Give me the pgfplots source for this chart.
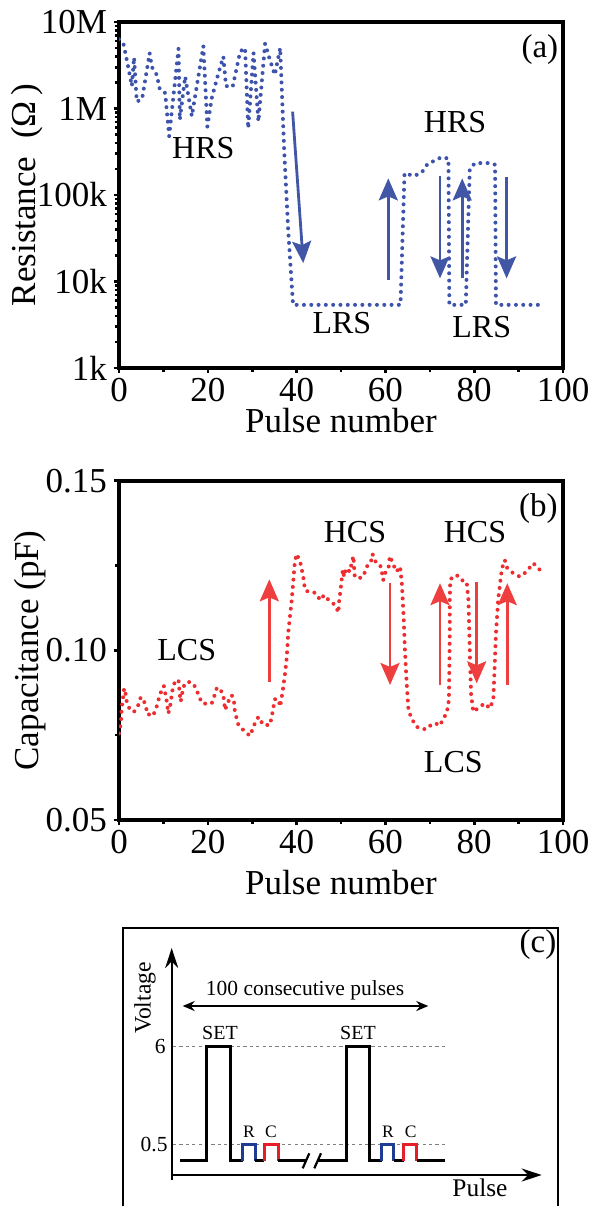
\documentclass[border=0pt]{standalone}
\usepackage{fontspec}
\setmainfont{Liberation Serif}
\usepackage{pgfplots}
\pgfplotsset{compat=1.18}
\usetikzlibrary{arrows.meta}

\definecolor{dotblue}{RGB}{62,84,172}
\definecolor{dotred}{RGB}{238,45,48}
\definecolor{arrblue}{RGB}{66,86,166}
\definecolor{arrred}{RGB}{239,62,62}
\definecolor{pblue}{RGB}{30,60,150}
\definecolor{pred}{RGB}{230,30,40}

\newcommand\lab{\fontsize{17.5bp}{19bp}\selectfont}
\newcommand\ann{\fontsize{16bp}{18bp}\selectfont}

\tikzset{
  dots/.style={line width=2bp, dash pattern=on 0pt off 3.65bp, line cap=round, line join=round},
  bigarrow/.style={line width=1.4bp, -{Stealth[length=11bp,width=9.5bp,inset=2bp]}},
}
\pgfplotsset{
  panel/.style={
    scale only axis, width=222bp,
    xmin=0, xmax=100, xtick={0,20,...,100}, minor x tick num=1,
    axis line style={line width=2bp},
    tick style={black, line width=1.3bp},
    major tick length=2.5bp, minor tick length=1.8bp,
    tick align=outside, xtick pos=bottom, ytick pos=left,
    tick label style={font=\lab},
    xticklabel style={yshift=1bp},
    /pgf/number format/assume math mode=true,
    label style={font=\lab},
    xlabel={Pulse number},
  },
}

\begin{document}
\begin{tikzpicture}
\useasboundingbox (0,0) rectangle (295bp,-603bp);

% (a) resistance
\begin{axis}[panel, at={(59.5bp,-184bp)}, anchor=south west, height=173bp,
  ymode=log, ymin=1e3, ymax=1e7,
  ytick={1e3,1e4,1e5,1e6,1e7}, yticklabels={1k,10k,100k,1M,10M},
  ylabel={Resistance\ \ (Ω\,)},
  xlabel style={at={(axis description cs:0.5,-0.153)}, anchor=center},
  ylabel style={at={(axis description cs:-0.207,0.5)}, anchor=center}]
\addplot[dots, dotblue] coordinates {
(0,6.31e6) (1,5.62e6) (2,3.16e6) (2.9,1.82e6) (3.4,3.89e6) (4.0,1.20e6)
(5.2,1.29e6) (6.9,4.37e6) (7.4,3.02e6) (8.5,2.45e6) (9.2,1.66e6) (10.4,1.51e6)
(11.3,4.79e5) (13.4,4.90e6) (13.7,7.41e5) (14.9,2.34e6) (16.4,8.13e5) (19.0,5.25e6)
(19.9,6.17e5) (20.9,1.32e6) (22.4,2.57e6) (23.5,3.98e6) (24.1,1.82e6) (25.6,1.78e6)
(27.3,4.57e6) (28.4,5.01e6) (29.1,5.89e5) (30.3,4.37e6) (31.4,7.08e5) (32.9,5.62e6)
(34.0,3.63e6) (35.1,2.45e6) (36.3,5.01e6) (37.2,3.31e5) (38.1,3.98e4) (39.2,5.37e3)
(45,5.37e3) (50,5.37e3) (55,5.37e3) (60,5.37e3) (63.4,5.37e3)
(64.3,1.78e5) (66.5,1.66e5) (68.2,1.82e5) (69.5,2.29e5) (71.2,2.51e5) (72.7,2.75e5)
(74.2,2.63e5) (74.4,5.37e3) (78.1,5.37e3) (79.0,2.00e5) (80.2,2.34e5) (82.0,2.34e5)
(83.6,2.34e5) (84.7,2.24e5) (84.9,5.37e3) (94.8,5.37e3)};
\draw[bigarrow, arrblue] (rel axis cs:0.391,0.741) -- (rel axis cs:0.415,0.303);
\draw[bigarrow, arrblue] (rel axis cs:0.6065,0.254) -- (rel axis cs:0.6065,0.548);
\draw[bigarrow, arrblue] (rel axis cs:0.723,0.555) -- (rel axis cs:0.723,0.259);
\draw[bigarrow, arrblue] (rel axis cs:0.773,0.261) -- (rel axis cs:0.773,0.548);
\draw[bigarrow, arrblue] (rel axis cs:0.873,0.553) -- (rel axis cs:0.873,0.259);
\node[font=\ann] at (rel axis cs:0.190,0.635) {HRS};
\node[font=\ann] at (rel axis cs:0.757,0.712) {HRS};
\node[font=\ann] at (rel axis cs:0.502,0.129) {LRS};
\node[font=\ann] at (rel axis cs:0.817,0.119) {LRS};
\node[font=\fontsize{16.5bp}{18bp}\selectfont] at (rel axis cs:0.948,0.919) {(a)};
\end{axis}

% (b) capacitance
\begin{axis}[panel, at={(59.5bp,-410bp)}, anchor=south west, height=169.65bp,
  ymin=0.05, ymax=0.15, ytick={0.05,0.10,0.15}, yticklabels={0.05,0.10,0.15},
  minor y tick num=1,
  ylabel={Capacitance (pF)},
  xlabel style={at={(axis description cs:0.5,-0.185)}, anchor=center},
  ylabel style={at={(axis description cs:-0.2,0.5)}, anchor=center}]
\addplot[dots, dotred] coordinates {
(0,0.0755) (0.45,0.0790) (0.6,0.0829) (0.98,0.0868) (1.13,0.0888) (1.58,0.0868)
(1.73,0.0849) (2.48,0.0824) (3.38,0.0819) (4.35,0.0839) (4.88,0.0861) (5.48,0.0858)
(5.86,0.0839) (6.61,0.0809) (6.98,0.0814) (7.73,0.0809) (8.48,0.0834) (9.08,0.0863)
(9.61,0.0883) (10.1,0.0895) (10.7,0.0854) (11.1,0.0814) (11.5,0.0834) (12.1,0.0888)
(12.6,0.0908) (13.4,0.0913) (13.7,0.0868) (13.9,0.0849) (14.5,0.0893) (15.4,0.0908)
(16.7,0.0903) (17.5,0.0883) (18.2,0.0858) (19.0,0.0842) (19.7,0.0844) (20.9,0.0844)
(21.4,0.0863) (22.0,0.0888) (22.6,0.0890) (23.5,0.0868) (23.9,0.0824) (24.4,0.0844)
(25.4,0.0868) (25.9,0.0849) (26.1,0.0819) (26.9,0.0780) (28.4,0.0760) (29.5,0.0748)
(30.6,0.0785) (31.4,0.0804) (32.5,0.0780) (34.0,0.0780) (34.6,0.0819) (35.1,0.0856)
(35.9,0.0856) (36.3,0.0834) (36.9,0.0883) (37.4,0.0932) (37.8,0.0981) (38.1,0.1050)
(38.5,0.1099) (38.9,0.1148) (39.6,0.1260) (40.0,0.1284)
(40.8,0.1261) (41.5,0.1217) (41.9,0.1178) (42.6,0.1173) (43.4,0.1173) (44.4,0.1168)
(45.3,0.1148) (46.2,0.1163) (46.8,0.1153) (47.9,0.1143) (48.9,0.1129) (49.4,0.1111)
(49.6,0.1148) (49.9,0.1178) (50.4,0.1237) (50.7,0.1217) (51.1,0.1242) (52.0,0.1232)
(52.4,0.1257) (52.8,0.1278) (53.1,0.1217) (53.9,0.1212) (55.0,0.1217) (55.8,0.1247)
(56.7,0.1258) (57.1,0.1284) (57.6,0.1266) (58.0,0.1257) (58.8,0.1252) (59.2,0.1232)
(59.5,0.1207) (59.9,0.1227) (60.7,0.1242) (61.0,0.1278) (61.8,0.1252) (62.5,0.1232)
(63.3,0.1247)
(63.7,0.1198) (64.1,0.1100) (64.4,0.1000) (64.8,0.0900) (65.2,0.0824) (65.9,0.0799)
(67.0,0.0775) (68.2,0.0768) (69.3,0.0768) (70.4,0.0782) (71.3,0.0785) (72.3,0.0778)
(73.0,0.0799) (73.8,0.0814) (74.3,0.0854) (74.4,0.0950) (74.5,0.1050) (74.5,0.1148)
(74.6,0.1207) (75.3,0.1220) (76.4,0.1220) (77.2,0.1207) (78.3,0.1202) (78.7,0.1148)
(78.9,0.1050) (79.1,0.0950) (79.3,0.0870) (79.8,0.0819) (81.3,0.0834) (82.4,0.0844)
(83.5,0.0829) (84.3,0.0854) (84.6,0.0950) (84.9,0.1050) (85.4,0.1150) (86.2,0.1237)
(86.5,0.1252) (86.9,0.1266) (87.3,0.1245) (88.8,0.1227) (90.3,0.1217) (91.8,0.1232)
(93.3,0.1257) (94.8,0.1237)};
\draw[bigarrow, arrred] (rel axis cs:0.3385,0.4076) -- (rel axis cs:0.3385,0.7094);
\draw[bigarrow, arrred] (rel axis cs:0.6104,0.6976) -- (rel axis cs:0.6104,0.3979);
\draw[bigarrow, arrred] (rel axis cs:0.723,0.398) -- (rel axis cs:0.723,0.698);
\draw[bigarrow, arrred] (rel axis cs:0.8056,0.7023) -- (rel axis cs:0.8056,0.4029);
\draw[bigarrow, arrred] (rel axis cs:0.8745,0.398) -- (rel axis cs:0.8745,0.698);
\node[font=\ann] at (rel axis cs:0.1525,0.501) {LCS};
\node[font=\ann] at (rel axis cs:0.5315,0.8497) {HCS};
\node[font=\ann] at (rel axis cs:0.8018,0.8497) {HCS};
\node[font=\ann] at (rel axis cs:0.753,0.172) {LCS};
\node[font=\fontsize{16.5bp}{18bp}\selectfont] at (rel axis cs:0.9444,0.9187) {(b)};
\end{axis}

% (c) pulse scheme
\begin{axis}[at={(60bp,-603bp)}, anchor=south west, scale only axis,
  width=220bp, height=143bp, xmin=120, xmax=560, ymin=0, ymax=286,
  hide axis, clip=false]
\draw[line width=0.8bp] (axis cs:122.7,-20) -- (axis cs:122.7,278) -- (axis cs:558,278) -- (axis cs:558,-20);
\addplot[gray, line width=0.5bp, dash pattern=on 1.6bp off 1.6bp] coordinates {(173,160) (445,160)};
\addplot[gray, line width=0.5bp, dash pattern=on 1.6bp off 1.6bp] coordinates {(173,62) (445,62)};
\addplot[black, line width=1.5bp] coordinates {(180,45.3) (206.7,45.3) (206.7,160) (230,160) (230,45.3) (242.7,45.3)};
\addplot[pblue, line width=1.5bp] coordinates {(242.7,45.3) (242.7,62) (255,62) (255,45.3)};
\addplot[black, line width=1.5bp] coordinates {(255,45.3) (264.3,45.3)};
\addplot[pred, line width=1.5bp] coordinates {(264.3,45.3) (264.3,62) (278.3,62) (278.3,45.3)};
\addplot[black, line width=1.5bp] coordinates {(278.3,45.3) (306,45.3)};
\addplot[black, line width=1.5bp] coordinates {(317,45.3) (346.7,45.3) (346.7,160) (369.3,160) (369.3,45.3) (381.7,45.3)};
\addplot[pblue, line width=1.5bp] coordinates {(381.7,45.3) (381.7,62) (394,62) (394,45.3)};
\addplot[black, line width=1.5bp] coordinates {(394,45.3) (404,45.3)};
\addplot[pred, line width=1.5bp] coordinates {(404,45.3) (404,62) (416.7,62) (416.7,45.3)};
\addplot[black, line width=1.5bp] coordinates {(416.7,45.3) (445,45.3)};
\draw[line width=1.1bp] (axis cs:302.7,37.7) -- (axis cs:309.3,52.7);
\draw[line width=1.1bp] (axis cs:314.3,37.7) -- (axis cs:321,52.7);
\draw[line width=1.2bp, -{Stealth[length=10bp,width=6.5bp]}] (axis cs:171.7,26) -- (axis cs:171.7,258);
\draw[line width=1.2bp, -{Stealth[length=10bp,width=6.5bp]}] (axis cs:171.1,31) -- (axis cs:541.7,31);
\draw[line width=0.8bp, {Stealth[length=6bp,width=5bp]}-{Stealth[length=6bp,width=5bp]}] (axis cs:182.7,200) -- (axis cs:428.3,200);
\node[font=\fontsize{11.8bp}{13bp}\selectfont, rotate=90] at (axis cs:145,208) {Voltage};
\node[font=\fontsize{12.7bp}{14bp}\selectfont] at (axis cs:480,18) {Pulse};
\node[font=\fontsize{10.75bp}{12bp}\selectfont] at (axis cs:305,215.3) {100 consecutive pulses};
\node[font=\fontsize{10bp}{12bp}\selectfont] at (axis cs:220,173) {SET};
\node[font=\fontsize{10bp}{12bp}\selectfont] at (axis cs:358,173) {SET};
\node[font=\fontsize{10.75bp}{12bp}\selectfont, anchor=east, inner sep=1bp] at (axis cs:168,160) {6};
\node[font=\fontsize{10.75bp}{12bp}\selectfont, anchor=east, inner sep=1bp] at (axis cs:170,62) {0.5};
\node[font=\fontsize{8.75bp}{10bp}\selectfont] at (axis cs:249,74.3) {R};
\node[font=\fontsize{8.75bp}{10bp}\selectfont] at (axis cs:271,74.3) {C};
\node[font=\fontsize{8.75bp}{10bp}\selectfont] at (axis cs:388,74.3) {R};
\node[font=\fontsize{8.75bp}{10bp}\selectfont] at (axis cs:410.7,74.3) {C};
\node[font=\fontsize{16.5bp}{18bp}\selectfont] at (axis cs:538,261) {(c)};
\end{axis}
\end{tikzpicture}
\end{document}
